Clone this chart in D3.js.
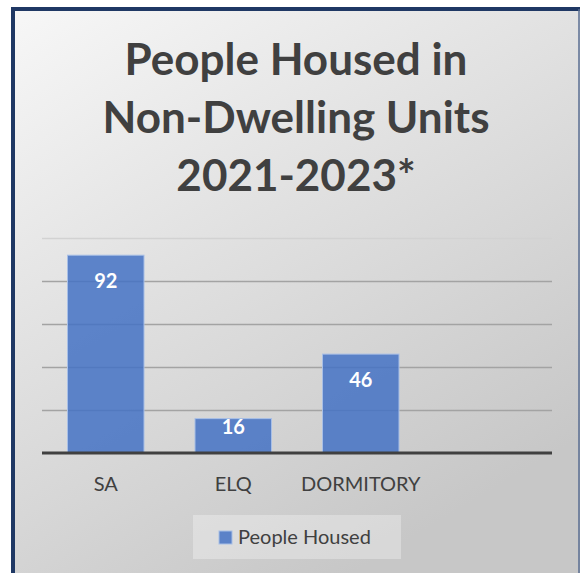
<!DOCTYPE html>
<html>
<head>
<meta charset="utf-8">
<script src="https://cdn.jsdelivr.net/npm/d3@7"></script>
<style>
  body { margin: 0; background: #fff; }
  svg { display: block; font-family: Lato, "Open Sans", sans-serif; }
</style>
</head>
<body>
<div id="chart"></div>
<script>
// chart data
const categories = ["SA", "ELQ", "DORMITORY", ""];
const peopleHoused = [92, 16, 46, null];
const yTicks = [0, 20, 40, 60, 80, 100];
const titleLines = ["People Housed in", "Non-Dwelling Units", "2021-2023*"];
const seriesName = "People Housed";

const W = 580, H = 573;
const margin = {top: 238, right: 28, bottom: 120, left: 42};
const innerW = W - margin.left - margin.right;
const innerH = H - margin.top - margin.bottom; // baseline at 453 -> 215

const svg = d3.select("#chart")
    .append("svg")
    .attr("width", W)
    .attr("height", H);

// background gradient
const defs = svg.append("defs");
const grad = defs.append("linearGradient")
    .attr("id", "bg")
    .attr("x1", "0").attr("y1", "0")
    .attr("x2", "0.6").attr("y2", "1");
grad.append("stop").attr("offset", "0%").attr("stop-color", "#f7f7f7");
grad.append("stop").attr("offset", "100%").attr("stop-color", "#c7c7c7");

svg.append("rect")
    .attr("x", 13).attr("y", 9)
    .attr("width", W - 13).attr("height", H - 9)
    .attr("fill", "url(#bg)");

// frame: thick left and top, thin right
svg.append("line").attr("x1", 13).attr("x2", 13).attr("y1", 7).attr("y2", H)
    .attr("stroke", "#1f3864").attr("stroke-width", 4);
svg.append("line").attr("x1", 11).attr("x2", W).attr("y1", 9).attr("y2", 9)
    .attr("stroke", "#1f3864").attr("stroke-width", 4);
svg.append("line").attr("x1", 579).attr("x2", 579).attr("y1", 9).attr("y2", H)
    .attr("stroke", "#5a6e92").attr("stroke-width", 1.5);

// title
const title = svg.append("text")
    .attr("text-anchor", "middle")
    .attr("fill", "#404040")
    .attr("font-weight", "bold")
    .attr("font-size", 44);
titleLines.forEach((t, i) => {
    title.append("tspan")
        .attr("x", 296)
        .attr("y", 75 + i * 58)
        .text(t);
});

const g = svg.append("g")
    .attr("transform", "translate(" + margin.left + "," + margin.top + ")");

const x = d3.scaleBand()
    .domain(categories)
    .range([0, innerW])
    .paddingInner(0.4)
    .paddingOuter(0.2);

const y = d3.scaleLinear()
    .domain([0, 100])
    .range([innerH, 0]);

// gridlines
g.append("g")
    .call(d3.axisLeft(y).tickValues(yTicks.slice(1)).tickSize(-innerW).tickFormat(""))
    .call(a => a.select(".domain").remove())
    .call(a => a.selectAll(".tick line")
        .attr("stroke", d => d === 100 ? "#d2d2d2" : "#a3a3a3")
        .attr("stroke-width", 1.5));

const barData = categories.map((c, i) => ({c: c, v: peopleHoused[i]})).filter(d => d.v != null);

// bars
g.selectAll("rect.bar")
    .data(barData)
    .enter()
    .append("rect")
    .attr("class", "bar")
    .attr("x", d => x(d.c))
    .attr("y", d => y(d.v))
    .attr("width", x.bandwidth())
    .attr("height", d => innerH - y(d.v))
    .attr("fill", "#4472c4")
    .attr("fill-opacity", 0.85)
    .attr("stroke", "#a8bfe6")
    .attr("stroke-width", 1);

// data labels (inside end, pulled up on short bars)
g.selectAll("text.val")
    .data(barData)
    .enter()
    .append("text")
    .attr("class", "val")
    .attr("x", d => x(d.c) + x.bandwidth() / 2)
    .attr("y", d => y(d.v) + Math.min(33, (innerH - y(d.v)) * 0.45))
    .attr("text-anchor", "middle")
    .attr("fill", "#fff")
    .attr("font-weight", "bold")
    .attr("font-size", 20)
    .text(d => d.v);

// x axis
const xAxis = g.append("g")
    .attr("transform", "translate(0," + innerH + ")")
    .call(d3.axisBottom(x).tickSize(0).tickPadding(24));
xAxis.select(".domain").remove();
xAxis.selectAll("text")
    .attr("fill", "#404040")
    .attr("font-size", 20)
    .attr("font-family", "Lato, 'Open Sans', sans-serif");
g.append("line")
    .attr("x1", 0).attr("x2", innerW)
    .attr("y1", innerH).attr("y2", innerH)
    .attr("stroke", "#404040")
    .attr("stroke-width", 3);

// legend
const legend = svg.append("g").attr("transform", "translate(193,515)");
legend.append("rect")
    .attr("width", 208).attr("height", 44)
    .attr("fill", "#ffffff").attr("fill-opacity", 0.3);
legend.append("rect")
    .attr("x", 26).attr("y", 16)
    .attr("width", 13).attr("height", 13)
    .attr("fill", "#4472c4").attr("fill-opacity", 0.85)
    .attr("stroke", "#a8bfe6");
legend.append("text")
    .attr("x", 45).attr("y", 29)
    .attr("fill", "#404040")
    .attr("font-size", 20)
    .text(seriesName);
</script>
</body>
</html>
